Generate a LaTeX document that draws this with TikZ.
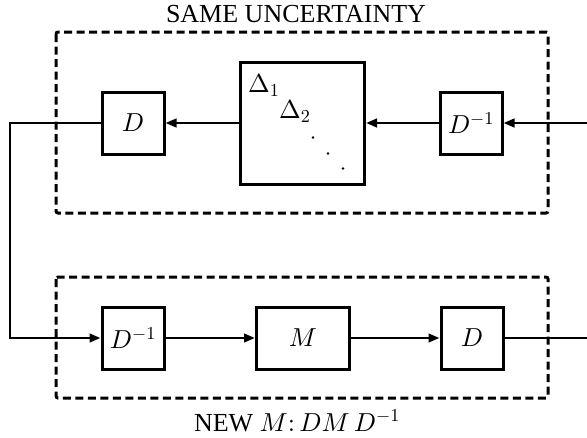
\documentclass[tikz,border=0pt]{standalone}
\usepackage[no-math]{fontspec}
\setmainfont{Liberation Serif}
\DeclareFontFamily{OML}{cmm}{\skewchar\font127}
\DeclareFontShape{OML}{cmm}{m}{it}{<->cmmi10}{}
\DeclareFontFamily{OMS}{cmsy}{\skewchar\font48}
\DeclareFontShape{OMS}{cmsy}{m}{n}{<->cmsy10}{}
\DeclareFontFamily{OT1}{cmr}{\hyphenchar\font45}
\DeclareFontShape{OT1}{cmr}{m}{n}{<->cmr10}{}
\usetikzlibrary{arrows.meta,calc}
\tikzset{
  every node/.style={font=\fontsize{26}{30}\selectfont},
  blk/.style={draw, line width=3pt, minimum width=62pt, minimum height=62pt, inner sep=0pt},
  grp/.style={draw, line width=3pt, dash pattern=on 8pt off 4.5pt, rounded corners=2pt},
  sig/.style={line width=2.6pt, -{Triangle[length=11pt, width=8.5pt]}},
  wire/.style={line width=2.6pt},
}
\begin{document}
\begin{tikzpicture}[x=1pt, y=-1pt]
  \useasboundingbox (0,0) rectangle (587,437);

  % uncertainty row
  \node[blk] (dT) at (133,123) {$D$};
  \node[blk, minimum width=124pt, minimum height=122pt] (dl) at (302.5,123) {};
  \node[blk] (diT) at (471,123) {$D^{-1}$};
  \node[anchor=base west, inner sep=0pt] (d1) at ($(dl.north west)+(9,32)$) {$\Delta_1$};
  \node[anchor=base west, inner sep=0pt] (d2) at ($(dl.north west)+(40,58)$) {$\Delta_2$};
  \foreach \dx/\dy in {74/77,89/93,104/108} { \fill ($(dl.north west)+(\dx,\dy)$) circle (1.3pt); }

  % plant row
  \node[blk] (diB) at (133,338) {$D^{-1}$};
  \node[blk, minimum width=93pt] (m) at (303,338) {$M$};
  \node[blk] (dB) at (472,338) {$D$};

  \coordinate (inR) at (587,123);
  \coordinate (outR) at (587,338);
  \coordinate (turn) at (10,230);

  \draw[sig] (inR) -- (diT.east);
  \draw[sig] (diT.west) -- (dl.east);
  \draw[sig] (dl.west) -- (dT.east);
  \draw[wire] (dT.west) -| (turn);
  \draw[sig] (turn) |- (diB.west);
  \draw[sig] (diB.east) -- (m.west);
  \draw[sig] (m.east) -- (dB.west);
  \draw[wire] (dB.east) -- (outR);

  \draw[grp] (56,32) rectangle (548,213);
  \draw[grp] (56,277) rectangle (548,398);
  \node (tt) at (296,14) {SAME UNCERTAINTY};
  \node (bt) at (297,421) {NEW $M{:}\,DM\,D^{-1}$};
\end{tikzpicture}
\end{document}
